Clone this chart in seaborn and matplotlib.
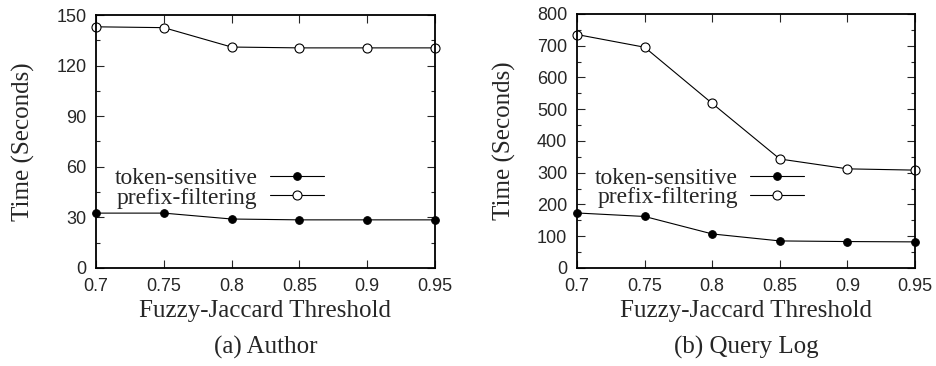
import pandas as pd
import seaborn as sns
import matplotlib.pyplot as plt
from matplotlib.ticker import MultipleLocator

thresholds = [0.7, 0.75, 0.8, 0.85, 0.9, 0.95]

author_token = [32.5, 32.5, 29, 28.5, 28.5, 28.5]
author_prefix = [143, 142.5, 131, 130.5, 130.5, 130.5]

qlog_token = [173, 162, 107, 85, 83, 82]
qlog_prefix = [735, 695, 518, 343, 312, 308]

x_ticks = [0.7, 0.75, 0.8, 0.85, 0.9, 0.95]
x_ticklabels = ['0.7', '0.75', '0.8', '0.85', '0.9', '0.95']

sns.set_style("ticks")
plt.rcParams['font.family'] = ['Liberation Sans', 'DejaVu Sans']
serif = 'Liberation Serif'

fig = plt.figure(figsize=(9.36, 3.66), dpi=100)
ax1 = fig.add_axes([0.1026, 0.268, 0.3621, 0.691])
ax2 = fig.add_axes([0.6165, 0.268, 0.3611, 0.694])


def draw(ax, token, prefix, ymax, ystep, caption):
    df = pd.DataFrame({'x': thresholds, 'token': token, 'prefix': prefix})
    sns.lineplot(data=df, x='x', y='token', ax=ax, color='black', lw=0.8,
                 marker='o', markersize=5.5, markerfacecolor='black',
                 markeredgecolor='black', label='token-sensitive', clip_on=False)
    sns.lineplot(data=df, x='x', y='prefix', ax=ax, color='black', lw=0.8,
                 marker='o', markersize=6.5, markerfacecolor='white',
                 markeredgecolor='black', markeredgewidth=0.8,
                 label='prefix-filtering', clip_on=False)
    ax.set_xlim(0.7, 0.95)
    ax.set_ylim(0, ymax)
    ax.set_xticks(x_ticks)
    ax.set_xticklabels(x_ticklabels)
    ax.yaxis.set_major_locator(MultipleLocator(ystep))
    ax.yaxis.set_minor_locator(MultipleLocator(ystep / 2))
    ax.tick_params(which='both', direction='in', top=True, right=True,
                   labelsize=13, width=0.8, pad=7)
    ax.tick_params(which='major', length=6)
    ax.tick_params(which='minor', length=3)
    for s in ax.spines.values():
        s.set_linewidth(1.3)
        s.set_color('black')
    ax.set_xlabel('Fuzzy-Jaccard Threshold', family=serif, fontsize=18,
                  labelpad=4)
    ax.set_ylabel('Time (Seconds)', family=serif, fontsize=18, labelpad=15)
    ax.legend(loc='center right', bbox_to_anchor=(0.70, 0.315),
              frameon=False, markerfirst=False,
              prop={'family': serif, 'size': 17}, handlelength=2.3,
              handletextpad=0.5, labelspacing=-0.1, borderaxespad=0)
    pos = ax.get_position()
    fig.text((pos.x0 + pos.x1) / 2, 0.02, caption, family=serif,
             fontsize=18, ha='center', va='bottom')


draw(ax1, author_token, author_prefix, 150, 30, '(a) Author')
draw(ax2, qlog_token, qlog_prefix, 800, 100, '(b) Query Log')

fig.savefig('out.png', dpi=100)
